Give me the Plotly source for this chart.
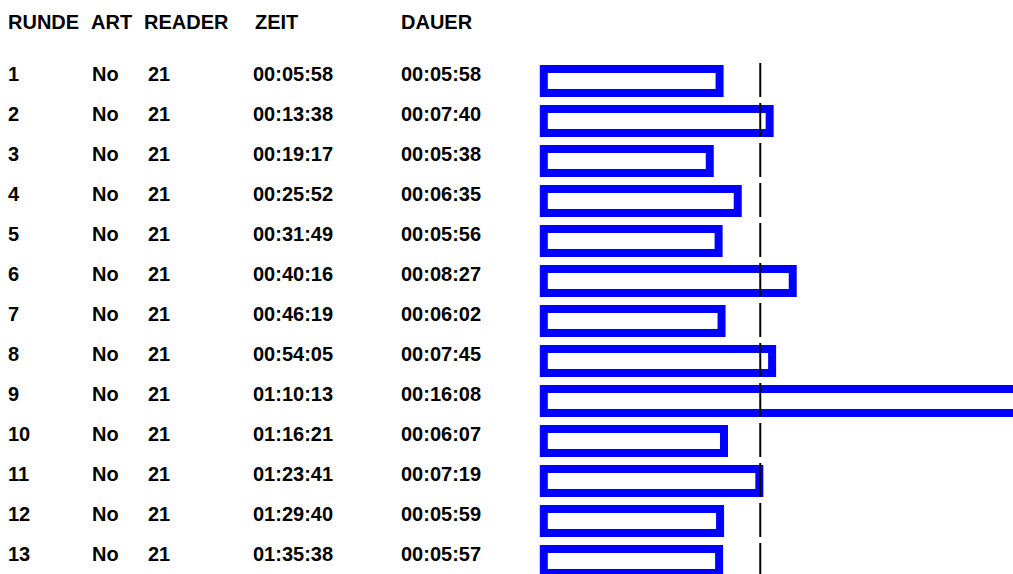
import plotly.graph_objects as go

# Lap table data
runde = [1, 2, 3, 4, 5, 6, 7, 8, 9, 10, 11, 12, 13]
art = ["No"] * 13
reader = ["21"] * 13
zeit = ["00:05:58", "00:13:38", "00:19:17", "00:25:52", "00:31:49", "00:40:16",
        "00:46:19", "00:54:05", "01:10:13", "01:16:21", "01:23:41", "01:29:40",
        "01:35:38"]
dauer = ["00:05:58", "00:07:40", "00:05:38", "00:06:35", "00:05:56", "00:08:27",
         "00:06:02", "00:07:45", "00:16:08", "00:06:07", "00:07:19", "00:05:59",
         "00:05:57"]
headers = ["RUNDE", "ART", "READER", "ZEIT", "DAUER"]


def to_seconds(s):
    h, m, sec = (int(p) for p in s.split(":"))
    return h * 3600 + m * 60 + sec


dauer_s = [to_seconds(d) for d in dauer]
mean_s = sum(dauer_s) / len(dauer_s)

W, H = 1013, 574
PX_PER_S = 0.491          # horizontal scale of the duration bars
X0 = 543.8                # pixel where a duration of zero sits
ROW_PX = 40               # row pitch in pixels
ROW1_PX = 81              # centre of first bar row
HALF_BAR = 0.3            # half bar thickness, in row units

x_range = [-X0 / PX_PER_S, (W - X0) / PX_PER_S]
y_range = [len(runde) + (H - (ROW1_PX + ROW_PX * (len(runde) - 1))) / ROW_PX,
           1 - ROW1_PX / ROW_PX]

fig = go.Figure()

# duration bars: white boxes with a thick blue outline
fig.add_trace(go.Bar(
    x=dauer_s, y=runde, orientation="h", width=2 * HALF_BAR, base=0,
    marker=dict(color="white", line=dict(color="#0000ff", width=8)),
    hoverinfo="skip", showlegend=False,
))

# average-duration marker, one segment per row
lx, ly = [], []
for r in runde:
    lx += [mean_s, mean_s, None]
    ly += [r - 18 / ROW_PX, r + 16 / ROW_PX, None]
fig.add_trace(go.Scatter(
    x=lx, y=ly, mode="lines", line=dict(color="black", width=2),
    hoverinfo="skip", showlegend=False,
))

font = dict(family="Liberation Sans, Arial, sans-serif", size=20, color="black", weight="bold")
col_x = [6, 89, 142, 253, 399]      # header column left edges (px)
val_x = [6, 90, 146, 251, 399]      # value column left edges (px)

anns = []
for txt, cx in zip(headers, col_x):
    anns.append(dict(text=txt, x=cx / W, xref="paper", y=1 - 22 / H, yref="paper",
                     xanchor="left", yanchor="middle", showarrow=False, font=font))
for i, r in enumerate(runde):
    vals = [str(r), art[i], reader[i], zeit[i], dauer[i]]
    for txt, cx in zip(vals, val_x):
        anns.append(dict(text=txt, x=cx / W, xref="paper", y=r, yref="y", yshift=7,
                         xanchor="left", yanchor="middle", showarrow=False, font=font))

fig.update_layout(
    width=W, height=H, margin=dict(l=0, r=0, t=0, b=0),
    paper_bgcolor="white", plot_bgcolor="white",
    xaxis=dict(range=x_range, visible=False, fixedrange=True),
    yaxis=dict(range=y_range, visible=False, fixedrange=True),
    annotations=anns,
)

fig.write_html("out.html")
